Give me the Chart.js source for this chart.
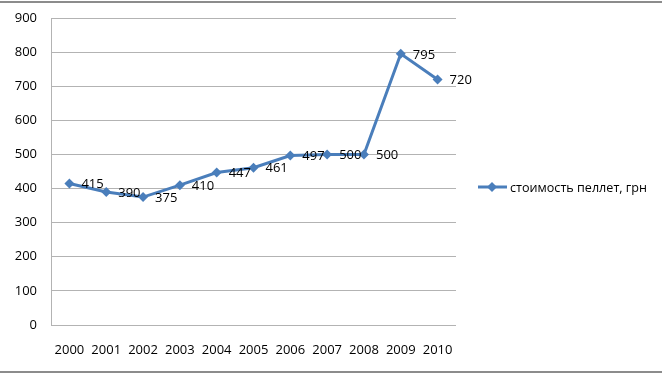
<!DOCTYPE html>
<html>
<head>
<meta charset="utf-8">
<script src="https://cdn.jsdelivr.net/npm/chart.js@4/dist/chart.umd.min.js"></script>
<style>
  html, body { margin: 0; padding: 0; background: #fff; }
  #wrap { width: 662px; height: 374px; position: relative; }
</style>
</head>
<body>
<div id="wrap"><canvas id="myChart" width="662" height="374"></canvas></div>
<script>
// данные графика
const years = ['2000', '2001', '2002', '2003', '2004', '2005', '2006', '2007', '2008', '2009', '2010'];
const prices = [415, 390, 375, 410, 447, 461, 497, 500, 500, 795, 720];
const seriesName = 'стоимость пеллет, грн';
const yTicks = [0, 100, 200, 300, 400, 500, 600, 700, 800, 900];

const FONT = '"Open Sans", "Liberation Sans", sans-serif';
const BLUE = '#4a7ebb';

function diamond(ctx, x, y, r) {
    ctx.beginPath();
    ctx.moveTo(x, y - r);
    ctx.lineTo(x + r, y);
    ctx.lineTo(x, y + r);
    ctx.lineTo(x - r, y);
    ctx.closePath();
    ctx.fill();
}

// подписи значений, легенда и рамка
const extras = {
    id: 'extras',
    afterDatasetsDraw(chart) {
        const ctx = chart.ctx;
        const meta = chart.getDatasetMeta(0);
        ctx.save();
        ctx.font = '13px ' + FONT;
        ctx.fillStyle = '#000';
        ctx.textAlign = 'left';
        ctx.textBaseline = 'middle';
        meta.data.forEach((pt, i) => {
            ctx.fillText(String(prices[i]), pt.x + 12, pt.y + 1);
        });

        // легенда
        const ly = 187;
        ctx.strokeStyle = BLUE;
        ctx.lineWidth = 3;
        ctx.beginPath();
        ctx.moveTo(478, ly);
        ctx.lineTo(507, ly);
        ctx.stroke();
        ctx.fillStyle = BLUE;
        diamond(ctx, 492, ly, 5);
        ctx.fillStyle = '#000';
        ctx.font = '12.6px ' + FONT;
        ctx.fillText(seriesName, 510, ly + 1);

        // рамка
        ctx.strokeStyle = '#8c8c8c';
        ctx.lineWidth = 2;
        ctx.beginPath();
        ctx.moveTo(0, 2);
        ctx.lineTo(662, 2);
        ctx.moveTo(0, 372);
        ctx.lineTo(662, 372);
        ctx.stroke();
        ctx.restore();
    }
};

const ctx = document.getElementById('myChart');

new Chart(ctx, {
    type: 'line',
    data: {
        labels: years,
        datasets: [{
            label: seriesName,
            data: prices,
            borderColor: BLUE,
            backgroundColor: BLUE,
            borderWidth: 3,
            pointStyle: 'rectRot',
            pointRadius: 5,
            pointBorderWidth: 0,
            pointBackgroundColor: BLUE,
            tension: 0
        }]
    },
    options: {
        responsive: false,
        animation: false,
        devicePixelRatio: 1,
        layout: { padding: { left: 0, right: 206, top: 18, bottom: 0 } },
        plugins: {
            legend: { display: false },
            tooltip: { enabled: false }
        },
        scales: {
            x: {
                offset: true,
                grid: { display: false, drawTicks: false },
                border: { display: false },
                ticks: {
                    padding: 17,
                    color: '#000',
                    font: { family: FONT, size: 13 },
                    maxRotation: 0,
                    autoSkip: false
                },
                afterFit(axis) {
                    axis.height = 49;
                    axis.paddingLeft = 0;
                    axis.paddingRight = 0;
                }
            },
            y: {
                min: 0,
                max: 900,
                afterBuildTicks(axis) { axis.ticks = yTicks.map(v => ({ value: v })); },
                grid: { color: '#b3b3b3', lineWidth: 1, drawTicks: false },
                border: { display: true, color: '#b3b3b3', width: 1 },
                ticks: {
                    padding: 14,
                    autoSkip: false,
                    color: '#000',
                    font: { family: FONT, size: 13 }
                },
                afterFit(axis) {
                    axis.width = 51;
                    axis.paddingTop = 0;
                    axis.paddingBottom = 0;
                }
            }
        }
    },
    plugins: [extras]
});
</script>
</body>
</html>
